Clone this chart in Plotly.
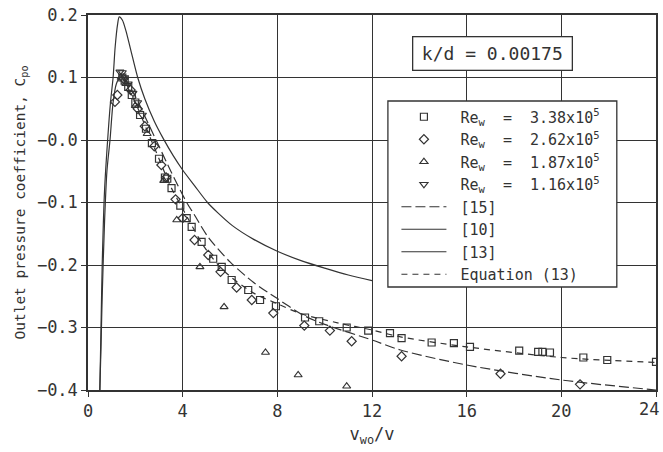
import plotly.graph_objects as go

# ---- data ----
sq_x = [1.45, 1.55, 1.7, 1.85, 2.0, 2.2, 2.45, 2.7, 3.0, 3.25, 3.35, 3.53, 3.9, 4.17, 4.38, 4.8, 5.29, 5.65,
        6.07, 6.77, 7.27, 7.94, 9.17, 9.77, 10.93, 11.84, 12.76, 13.25, 14.52, 15.46, 16.14, 18.22, 19.02,
        19.2, 19.52, 20.93, 21.94, 24.0]
sq_y = [0.1, 0.095, 0.085, 0.072, 0.06, 0.04, 0.018, -0.005, -0.03, -0.06, -0.062, -0.077, -0.105, -0.125,
        -0.139, -0.163, -0.19, -0.203, -0.224, -0.24, -0.256, -0.266, -0.284, -0.29, -0.3, -0.305, -0.309,
        -0.317, -0.324, -0.325, -0.331, -0.337, -0.339, -0.339, -0.34, -0.348, -0.352, -0.355]

di_x = [1.14, 1.24, 1.5, 1.8, 2.1, 2.4, 2.8, 3.1, 3.3, 3.7, 4.0, 4.5, 5.08, 5.6, 6.28, 6.92, 7.83, 9.14,
        10.22, 11.14, 13.25, 17.43, 20.79]
di_y = [0.061, 0.072, 0.098, 0.08, 0.05, 0.022, -0.01, -0.04, -0.06, -0.095, -0.125, -0.16, -0.184, -0.211,
        -0.236, -0.256, -0.277, -0.297, -0.305, -0.322, -0.346, -0.374, -0.391]

tu_x = [1.4, 1.6, 2.0, 2.5, 3.2, 3.75, 4.73, 5.75, 7.5, 8.88, 10.93]
tu_y = [0.1, 0.09, 0.055, 0.01, -0.065, -0.128, -0.203, -0.267, -0.34, -0.376, -0.394]

td_x = [1.35, 1.45, 1.55, 1.7, 1.9, 2.1, 2.3]
td_y = [0.109, 0.108, 0.1, 0.09, 0.075, 0.06, 0.04]

# [15] long-dashed curve
r15_x = [1.5, 2.0, 2.5, 3.0, 3.5, 4.17, 4.5, 5.07, 6.0, 7.0, 7.97, 9.08, 10.0, 12.0, 13.2, 16.0, 20.0, 24.0]
r15_y = [0.1, 0.07, 0.03, -0.01, -0.05, -0.1, -0.12, -0.155, -0.195, -0.228, -0.253, -0.28, -0.295, -0.32,
         -0.336, -0.36, -0.384, -0.4]

# [10] solid curve
r10_x = [0.5, 0.55, 0.6, 0.7, 0.83, 0.95, 1.06, 1.15, 1.25, 1.32, 1.45, 1.6, 1.8, 2.1, 2.4, 2.8, 3.17, 3.6,
         4.0, 4.5, 5.05, 5.5, 6.1, 7.0, 8.0, 9.0, 10.0, 11.0, 12.0]
r10_y = [-0.4, -0.3, -0.2, -0.08, 0.0, 0.06, 0.1, 0.15, 0.185, 0.197, 0.192, 0.175, 0.145, 0.1, 0.066, 0.03,
         0.003, -0.025, -0.048, -0.073, -0.1, -0.117, -0.137, -0.159, -0.178, -0.193, -0.205, -0.216, -0.225]

# [13] short solid curve
r13_x = [0.5, 0.55, 0.6, 0.7, 0.8, 0.93, 1.06, 1.2, 1.35, 1.45]
r13_y = [-0.4, -0.33, -0.25, -0.13, -0.05, 0.0, 0.06, 0.09, 0.1, 0.1]

# Equation (13) dashed curve
eq_x = [1.45, 2.0, 2.5, 3.0, 3.5, 4.0, 4.86, 5.5, 6.0, 7.0, 8.0, 9.0, 10.6, 12.0, 13.2, 16.0, 20.0, 24.0]
eq_y = [0.1, 0.06, 0.015, -0.03, -0.075, -0.11, -0.168, -0.2, -0.218, -0.245, -0.262, -0.278, -0.293, -0.304,
        -0.315, -0.331, -0.348, -0.356]

x_ticks = [0, 4, 8, 12, 16, 20, 24]
x_ticktext = ["0", "4", "8", "12", "16", "20", ""]   # last label drawn separately so it stays on the page
x_last_label = "24"
y_ticks = [0.2, 0.1, 0.0, -0.1, -0.2, -0.3, -0.4]
y_ticktext = ["0.2", "0.1", "\u22120.0", "\u22120.1", "\u22120.2", "\u22120.3", "\u22120.4"]

C = "#333333"
FONT = "DejaVu Sans Mono"
SP = "&nbsp;"

fig = go.Figure()


def markers(x, y, sym, name, size):
    fig.add_trace(go.Scatter(x=x, y=y, mode="markers", name=name,
                             marker=dict(symbol=sym, size=size, color=C, line=dict(width=1.2, color=C))))


def re_name(val):
    return SP + "Re<sub>w</sub>" + SP * 2 + "=" + SP * 2 + val + "x10<sup>5</sup>"


markers(sq_x, sq_y, "square-open", re_name("3.38"), 7)
markers(di_x, di_y, "diamond-open", re_name("2.62"), 7)
markers(tu_x, tu_y, "triangle-up-open", re_name("1.87"), 7)
markers(td_x, td_y, "triangle-down-open", re_name("1.16"), 7)


def curve(x, y, name, dash):
    fig.add_trace(go.Scatter(x=x, y=y, mode="lines", name=SP + name,
                             line=dict(color=C, width=1.2, dash=dash, shape="spline", smoothing=0.8)))


curve(r15_x, r15_y, "[15]", "10px,4px")
curve(r10_x, r10_y, "[10]", "solid")
curve(r13_x, r13_y, "[13]", "solid")
curve(eq_x, eq_y, "Equation" + SP + "(13)", "6px,5px")

# k/d label box
fig.add_annotation(x=0.712, y=0.896, xref="paper", yref="paper", showarrow=False,
                   xanchor="center", yanchor="middle",
                   text="k/d" + SP + "=" + SP + "0.00175",
                   font=dict(family=FONT, size=18, color=C), width=148, height=22,
                   bordercolor=C, borderwidth=1.3, borderpad=5, bgcolor="white")

# last x tick label, kept inside the page
fig.add_annotation(x=x_ticks[-1], xref="x", y=0, yref="paper", showarrow=False,
                   xanchor="right", yanchor="top", xshift=5, yshift=-7,
                   text=x_last_label, font=dict(family=FONT, size=17, color=C))

# legend frame (white box hiding the grid)
fig.add_shape(type="rect", xref="paper", yref="paper", x0=0.528, x1=0.931, y0=0.2747, y1=0.7707,
              fillcolor="white", line=dict(color=C, width=1.3), layer="above")

axis_common = dict(showgrid=True, gridcolor=C, gridwidth=1.3, showline=True, linecolor=C, linewidth=1.5,
                   mirror=True, ticks="outside", ticklen=5, tickcolor=C, zeroline=False,
                   automargin=False,
                   tickfont=dict(family=FONT, size=17, color=C))

fig.update_layout(
    width=663, height=452,
    margin=dict(l=88, r=7, t=15, b=62),
    paper_bgcolor="white", plot_bgcolor="white",
    font=dict(family=FONT, color=C),
    xaxis=dict(range=[0, 24], tickvals=x_ticks, ticktext=x_ticktext,
               title=dict(text="v<sub>wo</sub>/v", font=dict(family=FONT, size=17, color=C), standoff=8),
               **axis_common),
    yaxis=dict(range=[-0.4, 0.2], tickvals=y_ticks, ticktext=y_ticktext,
               title=dict(text="Outlet pressure coefficient, C<sub>po</sub>",
                          font=dict(family=FONT, size=14.5, color=C), standoff=8),
               **axis_common),
    legend=dict(x=0.543, y=0.772, xanchor="left", yanchor="top", bgcolor="rgba(0,0,0,0)",
                borderwidth=0, itemwidth=45, font=dict(family=FONT, size=15, color=C),
                traceorder="normal"),
    showlegend=True,
)

fig.write_html("out.html")
